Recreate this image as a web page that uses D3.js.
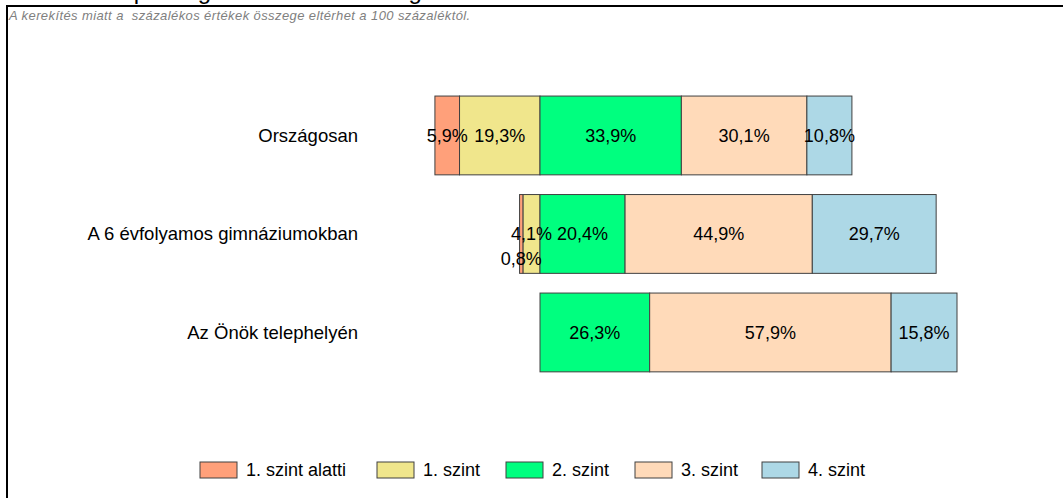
<!DOCTYPE html>
<html>
<head>
<meta charset="utf-8">
<script src="https://cdn.jsdelivr.net/npm/d3@7"></script>
<style>
    body { margin: 0; background: #fff; }
    svg { display: block; font-family: "Liberation Sans", Arial, sans-serif; }
</style>
</head>
<body>
<div id="chart"></div>
<script>
// data (percent)
const categories = ["Országosan", "A 6 évfolyamos gimnáziumokban", "Az Önök telephelyén"];
const levels = ["1. szint alatti", "1. szint", "2. szint", "3. szint", "4. szint"];
const belowLevel1 = [5.9, 0.8, 0];
const level1 = [19.3, 4.1, 0];
const level2 = [33.9, 20.4, 26.3];
const level3 = [30.1, 44.9, 57.9];
const level4 = [10.8, 29.7, 15.8];
const levelColors = ["#ffa07a", "#f0e68c", "#00ff7f", "#ffdab9", "#add8e6"];

const width = 1063, height = 498;

let svg = d3.select("#chart").append("svg")
    .attr("width", width)
    .attr("height", height);

// title sits mostly above the page, only its descenders peek in
svg.append("text")
    .text("A tanulók képességszintek szerinti megoszlása")
    .attr("x", 3)
    .attr("y", -1)
    .attr("font-size", "24px")
    .attr("fill", "#000");

// frame lines
svg.append("line")
    .attr("x1", 6).attr("x2", width)
    .attr("y1", 6).attr("y2", 6)
    .attr("stroke", "#000").attr("stroke-width", 2);
svg.append("line")
    .attr("x1", 7).attr("x2", 7)
    .attr("y1", 6).attr("y2", height)
    .attr("stroke", "#000").attr("stroke-width", 2);

svg.append("text")
    .text("A kerekítés miatt a  százalékos értékek összege eltérhet a 100 százaléktól.")
    .attr("x", 9)
    .attr("y", 20)
    .attr("font-size", "13px")
    .attr("letter-spacing", "0.4px")
    .attr("font-style", "italic")
    .attr("fill", "#808080")
    .style("white-space", "pre");

// scales: zero sits between "1. szint" and "2. szint"
let x = d3.scaleLinear()
    .domain([-50, 100])
    .range([331.5, 957]);

let y = d3.scaleBand()
    .domain(categories)
    .range([86.2, 381.7])
    .paddingInner(0.2)
    .paddingOuter(0.1);

// build segments per row
let series = [belowLevel1, level1, level2, level3, level4];
let segments = [];
categories.forEach((cat, i) => {
    // negative side, stacking outward from zero
    let neg = 0;
    [1, 0].forEach(k => {
        let v = series[k][i];
        segments.push({cat: cat, level: k, value: v, x0: -(neg + v), x1: -neg});
        neg += v;
    });
    let pos = 0;
    [2, 3, 4].forEach(k => {
        let v = series[k][i];
        segments.push({cat: cat, level: k, value: v, x0: pos, x1: pos + v});
        pos += v;
    });
});
segments = segments.filter(d => d.value > 0);

let fmt = v => d3.format(".1f")(v).replace(".", ",") + "%";

svg.selectAll(".seg")
    .data(segments)
    .enter().append("rect")
    .attr("class", "seg")
    .attr("x", d => x(d.x0))
    .attr("y", d => y(d.cat))
    .attr("width", d => x(d.x1) - x(d.x0))
    .attr("height", y.bandwidth())
    .attr("fill", d => levelColors[d.level])
    .attr("stroke", "#404040")
    .attr("stroke-width", 1);

svg.selectAll(".seg-label")
    .data(segments)
    .enter().append("text")
    .attr("class", "seg-label")
    .text(d => fmt(d.value))
    .attr("x", d => x((d.x0 + d.x1) / 2))
    // very thin slices get their label pushed below the others
    .attr("y", d => y(d.cat) + y.bandwidth() / 2 + (d.value < 2 ? 25 : 0))
    .attr("dy", "0.35em")
    .attr("text-anchor", "middle")
    .attr("font-size", "18px")
    .attr("fill", "#000");

// category labels
svg.selectAll(".cat-label")
    .data(categories)
    .enter().append("text")
    .attr("class", "cat-label")
    .text(d => d)
    .attr("x", 358)
    .attr("y", d => y(d) + y.bandwidth() / 2)
    .attr("dy", "0.35em")
    .attr("text-anchor", "end")
    .attr("font-size", "18.5px")
    .attr("fill", "#000");

// legend
let legendX = [200, 377, 506, 635, 762];
let legend = svg.selectAll(".legend-item")
    .data(levels)
    .enter().append("g")
    .attr("class", "legend-item")
    .attr("transform", (d, i) => `translate(${legendX[i]}, 462)`);

legend.append("rect")
    .attr("width", 37)
    .attr("height", 16)
    .attr("fill", (d, i) => levelColors[i])
    .attr("stroke", "#404040")
    .attr("stroke-width", 1);

legend.append("text")
    .text(d => d)
    .attr("x", 46)
    .attr("y", 8)
    .attr("dy", "0.35em")
    .attr("font-size", "18px")
    .attr("fill", "#000");
</script>
</body>
</html>
